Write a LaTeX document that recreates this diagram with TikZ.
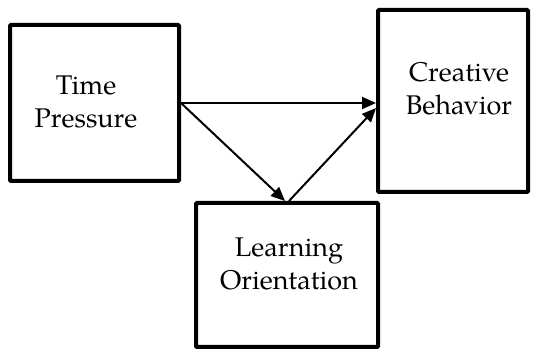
\documentclass[tikz,border=0pt]{standalone}
\usepackage{fontspec}
\setmainfont{TeX Gyre Pagella}
\usetikzlibrary{arrows.meta,calc}
\tikzset{
  boxnode/.style={draw=black, line width=4pt, rounded corners=1pt, inner sep=0pt, fill=white},
  lbl/.style={align=center, font=\fontsize{27}{33}\selectfont, inner sep=0pt},
  conn/.style={line width=2pt, -{Triangle[length=14pt,width=12pt]}}
}
\begin{document}
\begin{tikzpicture}[x=1pt,y=-1pt]
\useasboundingbox (0,0) rectangle (536,352);
\node[boxnode, minimum width=169pt, minimum height=156pt] (tp) at (94.5,103) {};
\node[boxnode, minimum width=150pt, minimum height=182pt] (cb) at (453,101) {};
\node[boxnode, minimum width=182pt, minimum height=144pt] (lo) at (287,275) {};
\node[lbl] (tpt) at (86,102) {Time\\Pressure};
\node[lbl] (cbt) at (459,89) {Creative\\Behavior};
\node[lbl] (lot) at (289,264) {Learning\\Orientation};
\coordinate (cbin) at ($(cb.west)+(0,7)$);
\coordinate (loout) at ($(lo.north)+(2,0)$);
\coordinate (loin) at ($(lo.north)+(-2,0)$);
\draw[conn] (tp.east) -- (cb.west |- tp.east);
\draw[conn] (tp.east) -- (loin);
\draw[conn] (loout) -- (cbin);
\end{tikzpicture}
\end{document}
